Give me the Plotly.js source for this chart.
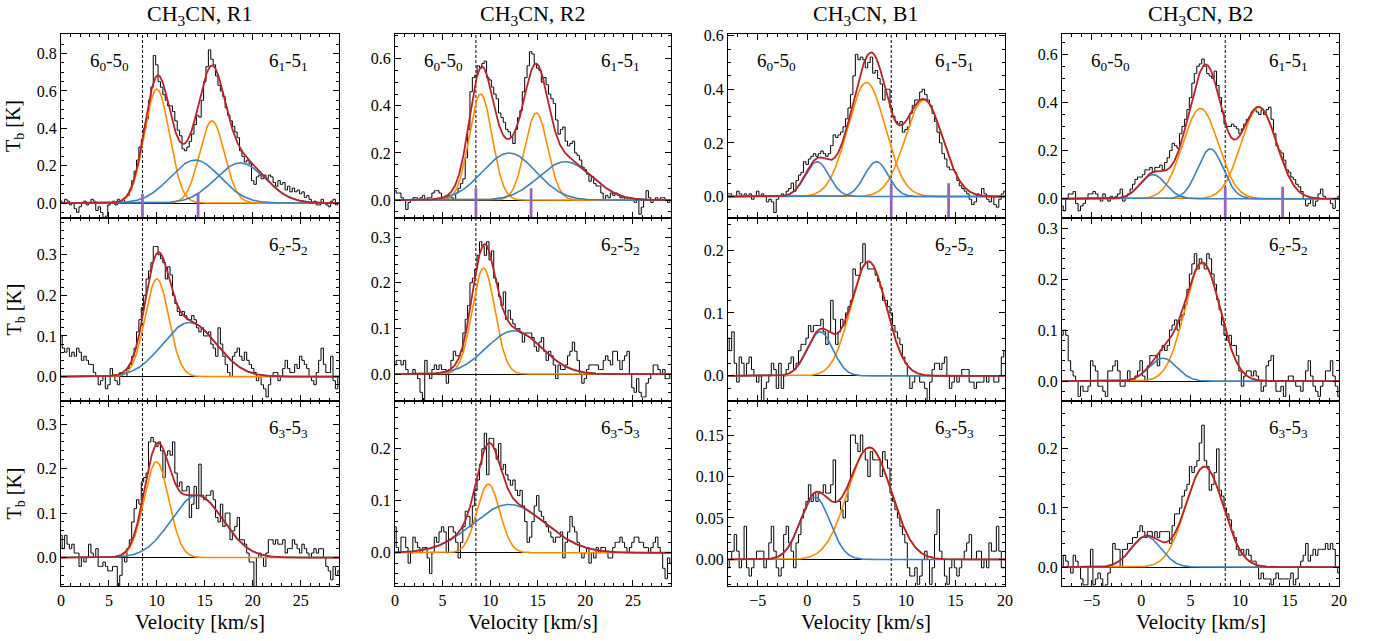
<!DOCTYPE html>
<html><head><meta charset="utf-8">
<script src="https://cdn.plot.ly/plotly-3.0.1.min.js"></script>
<style>html,body{margin:0;padding:0;background:#fff}#chart{width:1379px;height:641px}</style>
</head><body><div id="chart"></div>
<script>
// ---------------- DATA ----------------
const sources = ['R1', 'R2', 'B1', 'B2'];
const transitions = ['K01', 'K2', 'K3'];
const velStart = {R1: 0, R2: 0, B1: -8, B2: -8};
const velStep = 0.25;                 // channel width [km/s]
const systemicVel = 8.5;              // dotted reference velocity
const lineMarkerVel = [8.5, 14.3];    // K=0 and K=1 positions
const lineMarkerTop = 0.05;

// observed spectra Tb [K], one value per channel
const spec_R1_K01 = [0.01,0.00,0.02,0.01,-0.01,0.00,-0.03,-0.05,-0.02,0.00,
 0.01,-0.01,0.00,0.02,0.01,-0.04,-0.02,-0.05,-0.09,-0.07,
 -0.01,0.00,0.01,-0.01,0.02,0.01,0.00,0.03,0.04,0.07,
 0.12,0.17,0.23,0.30,0.34,0.40,0.45,0.55,0.62,0.79,
 0.74,0.65,0.62,0.58,0.55,0.52,0.52,0.49,0.44,0.39,
 0.36,0.29,0.28,0.30,0.33,0.37,0.42,0.47,0.46,0.55,
 0.65,0.73,0.82,0.77,0.74,0.68,0.63,0.60,0.57,0.51,
 0.47,0.44,0.41,0.38,0.35,0.28,0.25,0.22,0.23,0.21,
 0.12,0.10,0.14,0.15,0.13,0.15,0.13,0.15,0.14,0.11,
 0.09,0.12,0.10,0.11,0.07,0.09,0.06,0.08,0.06,0.07,
 0.05,0.06,0.03,0.04,0.02,0.00,0.01,-0.01,-0.01,0.02,
 0.00,-0.01,-0.02,0.01,0.02,-0.01,0.00];
const spec_R1_K2 = [0.10,0.07,0.06,0.07,0.05,0.06,0.05,0.07,0.06,0.04,
 0.05,0.04,0.03,0.03,0.01,0.00,-0.02,-0.01,0.00,-0.03,
 -0.02,0.02,0.00,-0.01,-0.02,0.01,0.00,0.00,0.02,0.03,
 0.05,0.07,0.11,0.14,0.17,0.20,0.24,0.26,0.28,0.32,
 0.32,0.30,0.29,0.28,0.24,0.27,0.25,0.20,0.18,0.16,
 0.15,0.16,0.15,0.14,0.14,0.15,0.14,0.12,0.11,0.12,
 0.10,0.10,0.11,0.08,0.07,0.05,0.12,0.08,0.05,0.03,
 0.01,0.00,0.05,0.06,0.07,0.05,0.04,0.06,0.04,0.03,
 0.02,0.01,-0.01,0.00,-0.02,-0.03,-0.05,-0.02,0.00,0.01,
 0.01,-0.01,0.00,0.02,0.04,0.02,0.01,0.01,0.03,0.02,
 0.05,0.04,0.03,0.02,0.00,-0.01,-0.02,0.01,0.04,0.07,
 0.03,0.01,0.01,0.05,-0.01,-0.03,0.00];
const spec_R1_K3 = [0.05,0.02,0.05,0.03,0.02,0.03,0.01,0.01,-0.02,0.00,
 -0.01,0.00,0.03,0.01,0.00,0.02,-0.02,-0.02,-0.01,-0.02,
 -0.03,-0.03,-0.02,-0.02,-0.07,-0.04,0.00,-0.01,0.02,0.04,
 0.08,0.11,0.13,0.12,0.17,0.18,0.19,0.26,0.27,0.26,
 0.25,0.26,0.24,0.18,0.23,0.24,0.23,0.26,0.19,0.16,
 0.17,0.15,0.15,0.16,0.09,0.12,0.16,0.11,0.21,0.14,
 0.13,0.14,0.14,0.15,0.13,0.09,0.08,0.12,0.07,0.10,
 0.10,0.04,0.06,0.07,0.09,0.04,0.04,0.03,0.01,-0.01,
 -0.01,-0.07,0.00,0.01,0.00,-0.02,0.01,0.04,0.04,0.03,
 0.04,0.03,0.03,0.04,0.01,0.02,0.02,0.04,0.03,0.02,
 0.01,0.03,0.02,0.01,0.00,0.01,0.02,0.01,0.02,0.02,
 0.00,-0.02,-0.03,-0.05,-0.02,-0.04,-0.03];
const spec_R2_K01 = [0.04,0.03,0.03,0.01,0.00,-0.04,-0.01,0.00,0.01,0.01,
 0.00,0.01,0.02,0.00,0.01,0.01,0.03,0.04,0.04,0.03,
 0.00,0.01,0.01,0.02,0.01,0.00,0.03,0.05,0.07,0.09,
 0.18,0.30,0.46,0.52,0.53,0.57,0.56,0.58,0.59,0.52,
 0.51,0.48,0.45,0.43,0.37,0.35,0.33,0.30,0.29,0.27,
 0.24,0.30,0.35,0.38,0.46,0.52,0.57,0.63,0.62,0.58,
 0.56,0.55,0.50,0.52,0.49,0.45,0.43,0.41,0.34,0.28,
 0.30,0.31,0.25,0.23,0.24,0.25,0.20,0.19,0.17,0.14,
 0.13,0.11,0.08,0.10,0.07,0.06,0.06,0.03,0.00,0.02,
 0.01,0.03,0.02,0.03,0.02,0.01,0.01,0.00,0.01,0.01,
 0.00,-0.01,0.00,-0.06,-0.03,0.00,0.04,0.01,-0.01,0.00,
 0.01,0.00,0.01,0.01,0.00,-0.01,0.00];
const spec_R2_K2 = [0.02,0.03,0.03,0.02,0.03,0.01,0.00,0.00,0.01,0.00,
 -0.01,-0.04,-0.06,0.03,0.00,-0.01,0.01,0.02,0.01,0.02,
 0.01,0.01,-0.02,0.01,0.03,0.05,0.04,0.04,0.05,0.09,
 0.12,0.15,0.20,0.21,0.23,0.26,0.29,0.28,0.26,0.29,
 0.25,0.27,0.21,0.20,0.17,0.15,0.18,0.12,0.14,0.12,
 0.11,0.10,0.10,0.09,0.07,0.09,0.09,0.09,0.08,0.06,
 0.05,0.07,0.08,0.05,0.03,0.05,0.04,0.02,-0.01,0.02,
 0.01,0.01,0.02,0.04,0.05,0.07,0.05,0.03,0.00,-0.02,
 -0.01,0.01,0.02,0.02,0.02,0.02,0.01,0.01,0.03,0.04,
 0.03,0.02,0.05,0.05,0.03,0.01,0.03,0.04,0.05,0.00,
 -0.03,-0.04,-0.01,-0.04,-0.05,-0.05,-0.02,-0.01,0.00,0.02,
 0.02,0.01,0.00,0.01,-0.01,-0.01,0.00];
const spec_R2_K3 = [0.05,0.01,0.00,0.03,0.03,0.01,-0.02,0.00,0.03,0.02,
 0.01,0.00,0.01,0.01,-0.01,-0.04,0.00,0.03,0.02,0.04,
 0.05,0.04,0.00,0.05,0.05,0.04,0.02,-0.01,0.02,0.05,
 0.08,0.07,0.05,0.09,0.12,0.14,0.17,0.20,0.23,0.15,
 0.22,0.22,0.20,0.18,0.21,0.16,0.17,0.15,0.14,0.13,
 0.14,0.12,0.11,0.12,0.09,0.06,0.02,0.03,0.06,0.09,
 0.11,0.08,0.07,0.06,0.05,0.04,0.03,0.02,0.03,0.03,
 0.04,-0.01,0.02,0.04,0.07,0.05,0.04,0.02,0.00,-0.01,
 0.00,0.01,-0.02,0.00,-0.01,0.01,0.00,0.01,0.01,0.00,
 -0.01,-0.01,0.01,0.02,0.02,0.03,0.02,0.01,0.00,0.01,
 0.02,0.03,0.03,0.02,0.02,0.01,0.01,0.00,0.01,0.02,
 0.03,0.01,0.00,-0.03,-0.05,-0.01,-0.02];
const spec_B1_K01 = [0.01,0.01,0.00,0.00,0.02,0.01,0.00,0.01,0.00,0.01,
 -0.01,0.00,0.02,0.00,0.01,0.00,-0.02,-0.01,-0.02,-0.06,
 -0.01,0.00,0.01,0.00,0.02,0.03,0.05,0.02,0.06,0.08,
 0.09,0.13,0.12,0.14,0.15,0.16,0.15,0.16,0.17,0.16,
 0.15,0.16,0.19,0.23,0.22,0.23,0.24,0.26,0.29,0.33,
 0.38,0.45,0.53,0.51,0.52,0.51,0.48,0.50,0.52,0.46,
 0.47,0.44,0.42,0.36,0.40,0.40,0.33,0.30,0.28,0.27,
 0.28,0.24,0.25,0.26,0.31,0.34,0.36,0.36,0.39,0.40,
 0.38,0.36,0.34,0.31,0.28,0.24,0.20,0.16,0.14,0.11,
 0.10,0.10,0.09,0.06,0.04,0.03,0.02,0.01,-0.01,-0.03,
 -0.02,0.01,0.00,0.03,0.01,-0.01,-0.02,0.00,-0.03,-0.04,
 -0.01,0.01,0.02];
const spec_B1_K2 = [0.06,0.04,0.07,0.02,-0.01,0.03,0.02,0.00,0.02,0.03,
 0.01,0.00,-0.01,0.00,-0.04,-0.02,-0.01,0.00,0.02,0.01,
 -0.02,0.02,-0.02,0.00,0.01,0.02,0.03,0.01,0.02,0.04,
 0.05,0.05,0.06,0.08,0.07,0.08,0.08,0.08,0.09,0.07,
 0.05,0.07,0.12,0.09,0.05,0.07,0.09,0.08,0.10,0.11,
 0.12,0.17,0.16,0.16,0.18,0.21,0.18,0.17,0.17,0.17,
 0.16,0.15,0.14,0.12,0.12,0.11,0.10,0.08,0.07,0.06,
 0.05,0.03,0.02,0.00,-0.02,-0.01,0.00,0.00,-0.01,-0.01,
 -0.02,-0.04,-0.01,0.01,0.02,0.02,0.01,0.02,0.03,0.00,
 -0.02,-0.01,0.00,-0.01,0.00,0.01,0.01,0.01,-0.01,-0.01,
 -0.02,-0.01,-0.01,-0.01,0.00,-0.01,0.00,0.00,-0.01,-0.01,
 0.00,0.03,0.04];
const spec_B1_K3 = [-0.01,0.00,0.01,0.03,0.01,-0.01,0.00,0.04,-0.01,-0.02,
 -0.01,0.00,0.01,0.01,0.01,-0.01,0.00,0.02,0.04,0.01,
 -0.01,-0.02,-0.01,0.03,0.04,0.02,0.01,-0.01,0.02,0.03,
 0.05,0.06,0.07,0.09,0.07,0.08,0.07,0.08,0.08,0.09,
 0.08,0.08,0.09,0.12,0.07,0.07,0.06,0.05,0.07,0.09,
 0.15,0.15,0.14,0.13,0.15,0.13,0.12,0.10,0.13,0.12,
 0.12,0.12,0.10,0.13,0.12,0.11,0.08,0.07,0.06,0.05,
 0.04,0.03,0.02,-0.01,-0.02,-0.02,-0.01,-0.03,-0.02,0.00,
 0.01,0.00,-0.03,-0.01,0.03,0.06,0.01,0.00,-0.02,-0.03,
 -0.01,0.00,-0.01,-0.02,-0.01,0.00,0.01,0.02,0.03,0.00,
 0.00,0.01,0.01,-0.01,0.00,-0.01,0.02,0.01,0.01,0.04,
 0.01,-0.01,-0.01];
const spec_B2_K01 = [-0.03,-0.05,0.00,0.02,0.02,0.03,-0.02,-0.05,-0.03,-0.02,
 0.00,0.02,0.02,0.03,0.02,0.00,-0.01,0.02,0.00,-0.01,
 0.01,0.00,0.01,0.02,0.04,-0.01,0.01,0.02,0.04,0.06,
 0.08,0.09,0.09,0.10,0.12,0.12,0.13,0.11,0.13,0.13,
 0.14,0.12,0.15,0.17,0.20,0.23,0.22,0.21,0.27,0.30,
 0.33,0.37,0.42,0.48,0.52,0.55,0.56,0.58,0.55,0.52,
 0.51,0.50,0.53,0.47,0.42,0.36,0.31,0.30,0.30,0.31,
 0.30,0.29,0.27,0.29,0.31,0.33,0.34,0.36,0.37,0.36,
 0.35,0.37,0.35,0.37,0.38,0.33,0.27,0.22,0.20,0.19,
 0.16,0.12,0.11,0.09,0.08,0.06,0.05,0.03,0.00,-0.03,
 -0.02,0.00,-0.03,-0.01,0.02,0.04,0.01,0.00,0.00,-0.02,
 -0.04,0.00,0.01];
const spec_B2_K2 = [0.09,0.10,0.09,0.04,0.02,0.01,0.00,-0.03,-0.01,-0.02,
 -0.02,-0.01,0.04,0.03,0.02,-0.01,-0.01,-0.02,-0.03,0.02,
 0.02,0.03,0.04,0.02,-0.01,-0.01,0.00,0.02,0.00,0.00,
 0.01,0.02,0.04,0.01,0.00,0.03,0.05,0.05,0.05,0.03,
 0.06,0.07,0.06,0.07,0.10,0.11,0.12,0.10,0.12,0.13,
 0.15,0.18,0.21,0.23,0.25,0.22,0.24,0.23,0.22,0.25,
 0.24,0.21,0.19,0.16,0.14,0.11,0.09,0.08,0.09,0.07,
 0.07,0.05,0.02,-0.01,0.01,0.02,0.02,0.01,0.02,0.01,
 0.00,-0.02,-0.01,0.03,0.04,0.05,0.00,-0.02,-0.02,-0.01,
 -0.03,0.00,0.01,0.01,0.00,-0.01,-0.01,-0.02,0.00,0.02,
 0.04,0.01,-0.01,-0.02,-0.03,-0.01,0.00,0.02,0.02,0.04,
 0.01,-0.01,-0.03];
const spec_B2_K3 = [0.00,0.02,0.01,0.00,-0.01,0.02,0.01,0.00,-0.02,-0.03,
 -0.03,0.00,0.03,-0.03,-0.02,-0.01,-0.02,-0.04,-0.03,-0.01,
 0.00,0.04,0.03,0.03,0.00,0.03,0.03,0.04,0.04,0.05,
 0.05,0.06,0.07,0.06,0.05,0.06,0.06,0.05,0.06,0.05,
 0.06,0.06,0.06,0.06,0.04,0.07,0.09,0.09,0.10,0.12,
 0.13,0.14,0.17,0.16,0.17,0.18,0.21,0.24,0.18,0.17,
 0.13,0.14,0.16,0.20,0.13,0.12,0.10,0.09,0.08,0.06,
 0.05,0.03,0.02,0.03,0.02,0.03,0.02,0.01,0.01,0.00,
 -0.02,-0.01,-0.02,-0.02,-0.02,-0.03,-0.02,-0.01,-0.02,-0.02,
 -0.02,-0.02,-0.02,-0.01,-0.03,-0.02,0.00,0.01,0.02,0.04,
 0.01,0.02,0.03,0.02,0.03,0.03,0.03,0.04,0.03,0.04,
 0.03,0.00,-0.01];

// Gaussian fit components: [amplitude K, centre km/s, sigma km/s]
const fit_R1_K01_orange = [[0.61, 10.0, 1.3], [0.44, 15.75, 1.3]];
const fit_R1_K01_blue   = [[0.23, 14.0, 2.6], [0.215, 18.7, 2.6]];
const fit_R1_K2_orange  = [[0.24, 10.0, 1.25]];
const fit_R1_K2_blue    = [[0.133, 13.4, 2.8]];
const fit_R1_K3_orange  = [[0.215, 9.95, 1.3]];
const fit_R1_K3_blue    = [[0.14, 14.2, 2.7]];
const fit_R2_K01_orange = [[0.45, 9.0, 1.2], [0.37, 14.85, 1.2]];
const fit_R2_K01_blue   = [[0.20, 12.0, 2.8], [0.163, 17.9, 2.8]];
const fit_R2_K2_orange  = [[0.232, 9.3, 1.2]];
const fit_R2_K2_blue    = [[0.095, 12.5, 2.9]];
const fit_R2_K3_orange  = [[0.132, 9.8, 1.2]];
const fit_R2_K3_blue    = [[0.093, 12.0, 3.8]];
const fit_B1_K01_orange = [[0.425, 6.0, 1.9], [0.36, 11.8, 1.9]];
const fit_B1_K01_blue   = [[0.13, 1.0, 1.2], [0.13, 7.0, 1.2]];
const fit_B1_K2_orange  = [[0.182, 6.2, 1.8]];
const fit_B1_K2_blue    = [[0.07, 1.3, 1.3]];
const fit_B1_K3_orange  = [[0.135, 6.3, 2.2]];
const fit_B1_K3_blue    = [[0.075, 0.8, 1.5]];
const fit_B2_K01_orange = [[0.375, 6.0, 1.8], [0.38, 11.9, 1.8]];
const fit_B2_K01_blue   = [[0.10, 1.2, 1.3], [0.207, 7.0, 1.3]];
const fit_B2_K2_orange  = [[0.232, 6.2, 1.8]];
const fit_B2_K2_blue    = [[0.045, 2.2, 1.4]];
const fit_B2_K3_orange  = [[0.17, 6.4, 1.9]];
const fit_B2_K3_blue    = [[0.052, 0.5, 1.5]];

const transitionLabels = {
  K01: ['6<sub>0</sub>-5<sub>0</sub>', '6<sub>1</sub>-5<sub>1</sub>'],
  K2: ['6<sub>2</sub>-5<sub>2</sub>'],
  K3: ['6<sub>3</sub>-5<sub>3</sub>']
};

// ---------------- STYLE / LAYOUT ----------------
const W = 1379, H = 641;
const colPx = [[61, 339], [395, 671], [728, 1005], [1062, 1339]];
const rowPx = [[34, 218], [218, 401], [401, 586]];
const xRanges = {R1: [0, 29], R2: [0, 29], B1: [-8, 20], B2: [-8, 20]};
const yRanges = {
  R1: [[-0.08, 0.905], [-0.06, 0.39], [-0.064, 0.352]],
  R2: [[-0.076, 0.705], [-0.059, 0.342], [-0.064, 0.292]],
  B1: [[-0.08, 0.606], [-0.04, 0.251], [-0.032, 0.191]],
  B2: [[-0.08, 0.684], [-0.039, 0.32], [-0.032, 0.281]]
};
const yDtick = {
  R1: [0.2, 0.1, 0.1], R2: [0.2, 0.1, 0.1], B1: [0.2, 0.1, 0.05], B2: [0.2, 0.1, 0.1]
};
const C_ORANGE = '#ff8c00', C_BLUE = '#3a7fbf', C_RED = '#b8232a', C_PURPLE = '#9467bd';
const FONT = "'Liberation Serif', 'Times New Roman', serif";

const dataSets = {
  R1: {K01: spec_R1_K01, K2: spec_R1_K2, K3: spec_R1_K3},
  R2: {K01: spec_R2_K01, K2: spec_R2_K2, K3: spec_R2_K3},
  B1: {K01: spec_B1_K01, K2: spec_B1_K2, K3: spec_B1_K3},
  B2: {K01: spec_B2_K01, K2: spec_B2_K2, K3: spec_B2_K3}
};
const fits = {
  R1: {K01: [fit_R1_K01_orange, fit_R1_K01_blue], K2: [fit_R1_K2_orange, fit_R1_K2_blue], K3: [fit_R1_K3_orange, fit_R1_K3_blue]},
  R2: {K01: [fit_R2_K01_orange, fit_R2_K01_blue], K2: [fit_R2_K2_orange, fit_R2_K2_blue], K3: [fit_R2_K3_orange, fit_R2_K3_blue]},
  B1: {K01: [fit_B1_K01_orange, fit_B1_K01_blue], K2: [fit_B1_K2_orange, fit_B1_K2_blue], K3: [fit_B1_K3_orange, fit_B1_K3_blue]},
  B2: {K01: [fit_B2_K01_orange, fit_B2_K01_blue], K2: [fit_B2_K2_orange, fit_B2_K2_blue], K3: [fit_B2_K3_orange, fit_B2_K3_blue]}
};

function gauss(comp, x) { const [a, c, s] = comp; return a * Math.exp(-0.5 * ((x - c) / s) ** 2); }

const traces = [], shapes = [], annotations = [];
const layout = {
  width: W, height: H, margin: {l: 0, r: 0, t: 0, b: 0},
  paper_bgcolor: '#fff', plot_bgcolor: '#fff', showlegend: false,
  font: {family: FONT, color: '#000', size: 16}
};

sources.forEach((src, c) => {
  transitions.forEach((tr, r) => {
    const n = r * 4 + c + 1;
    const xa = 'x' + (n === 1 ? '' : n), ya = 'y' + (n === 1 ? '' : n);
    const xKey = 'xaxis' + (n === 1 ? '' : n), yKey = 'yaxis' + (n === 1 ? '' : n);
    const [x0px, x1px] = colPx[c], [y0px, y1px] = rowPx[r];
    const xr = xRanges[src], yr = yRanges[src][r], dt = yDtick[src][r];

    layout[xKey] = {
      domain: [x0px / W, x1px / W], range: xr, anchor: ya,
      tick0: 0, dtick: 5, ticks: 'inside', ticklen: 6, tickwidth: 1, tickcolor: '#000',
      minor: {ticks: 'inside', ticklen: 3, tickwidth: 1, tickcolor: '#000', dtick: 1, tick0: 0, showgrid: false},
      showline: true, linecolor: '#000', linewidth: 1, mirror: 'ticks',
      showgrid: false, zeroline: false, showticklabels: r === 2,
      tickfont: {family: FONT, size: 16, color: '#000'}
    };
    layout[yKey] = {
      domain: [1 - y1px / H, 1 - y0px / H], range: yr, anchor: xa,
      tick0: 0, dtick: dt, tickformat: dt < 0.1 ? '.2f' : '.1f',
      ticks: 'inside', ticklen: 6, tickwidth: 1, tickcolor: '#000',
      minor: {ticks: 'inside', ticklen: 3, tickwidth: 1, tickcolor: '#000', dtick: (dt === 0.2 ? 0.05 : dt / 5), tick0: 0, showgrid: false},
      showline: true, linecolor: '#000', linewidth: 1, mirror: 'ticks',
      showgrid: false, zeroline: true, zerolinecolor: '#000', zerolinewidth: 1,
      tickfont: {family: FONT, size: 16, color: '#000'}
    };

    // observed spectrum (channels)
    const spec = dataSets[src][tr];
    const vel = spec.map((_, i) => velStart[src] + i * velStep);
    traces.push({type: 'scatter', mode: 'lines', x: vel, y: spec, xaxis: xa, yaxis: ya,
      line: {color: '#000', width: 1, shape: 'hvh'}, hoverinfo: 'skip'});

    // fitted Gaussian components and their sum
    const [orangeComps, blueComps] = fits[src][tr];
    const grid = [];
    for (let v = xr[0]; v <= xr[1] + 1e-9; v += 0.05) grid.push(v);
    orangeComps.forEach(cp => traces.push({type: 'scatter', mode: 'lines', x: grid, y: grid.map(v => gauss(cp, v)),
      xaxis: xa, yaxis: ya, line: {color: C_ORANGE, width: 1.6}, hoverinfo: 'skip'}));
    blueComps.forEach(cp => traces.push({type: 'scatter', mode: 'lines', x: grid, y: grid.map(v => gauss(cp, v)),
      xaxis: xa, yaxis: ya, line: {color: C_BLUE, width: 1.6}, hoverinfo: 'skip'}));
    const all = orangeComps.concat(blueComps);
    traces.push({type: 'scatter', mode: 'lines', x: grid, y: grid.map(v => all.reduce((s, cp) => s + gauss(cp, v), 0)),
      xaxis: xa, yaxis: ya, line: {color: C_RED, width: 1.8}, hoverinfo: 'skip'});

    // K=0 / K=1 position markers (top row)
    if (tr === 'K01') {
      lineMarkerVel.forEach(v => traces.push({type: 'scatter', mode: 'lines', x: [v, v], y: [yr[0] - 1, lineMarkerTop],
        xaxis: xa, yaxis: ya, line: {color: C_PURPLE, width: 2.8}, hoverinfo: 'skip'}));
    }

    // dotted reference velocity
    shapes.push({type: 'line', xref: xa, yref: ya + ' domain', x0: systemicVel, x1: systemicVel, y0: 0, y1: 1,
      line: {color: '#000', width: 1, dash: '3px,2px'}, layer: 'below'});

    // transition labels
    const labs = transitionLabels[tr];
    const lblY = 1 - 28 / (y1px - y0px);
    if (labs.length === 2) {
      annotations.push({xref: xa + ' domain', yref: ya + ' domain', x: 48 / (x1px - x0px), y: lblY,
        text: labs[0], showarrow: false, xanchor: 'center', yanchor: 'middle', font: {family: FONT, size: 19, color: '#000'}});
      annotations.push({xref: xa + ' domain', yref: ya + ' domain', x: 1 - 29 / (x1px - x0px), y: lblY,
        text: labs[1], showarrow: false, xanchor: 'right', yanchor: 'middle', font: {family: FONT, size: 19, color: '#000'}});
    } else {
      annotations.push({xref: xa + ' domain', yref: ya + ' domain', x: 1 - 29 / (x1px - x0px), y: lblY,
        text: labs[0], showarrow: false, xanchor: 'right', yanchor: 'middle', font: {family: FONT, size: 19, color: '#000'}});
    }

    // y-axis title on first column
    if (c === 0) {
      annotations.push({xref: 'paper', yref: 'paper', x: 15 / W, y: 1 - ((y0px + y1px) / 2) / H,
        text: 'T<sub>b</sub> [K]', textangle: -90, showarrow: false, xanchor: 'center', yanchor: 'middle',
        font: {family: FONT, size: 20, color: '#000'}});
    }
    // x-axis title on bottom row
    if (r === 2) {
      annotations.push({xref: 'paper', yref: 'paper', x: ((x0px + x1px) / 2) / W, y: 1 - 622 / H,
        text: 'Velocity [km/s]', showarrow: false, xanchor: 'center', yanchor: 'middle',
        font: {family: FONT, size: 21, color: '#000'}});
    }
    // column titles
    if (r === 0) {
      annotations.push({xref: 'paper', yref: 'paper', x: ((x0px + x1px) / 2) / W, y: 1 - 15 / H,
        text: 'CH<sub>3</sub>CN, ' + src, showarrow: false, xanchor: 'center', yanchor: 'middle',
        font: {family: FONT, size: 22, color: '#000'}});
    }
  });
});

layout.shapes = shapes;
layout.annotations = annotations;
Plotly.newPlot('chart', traces, layout, {staticPlot: true, displayModeBar: false});
</script>
</body></html>
